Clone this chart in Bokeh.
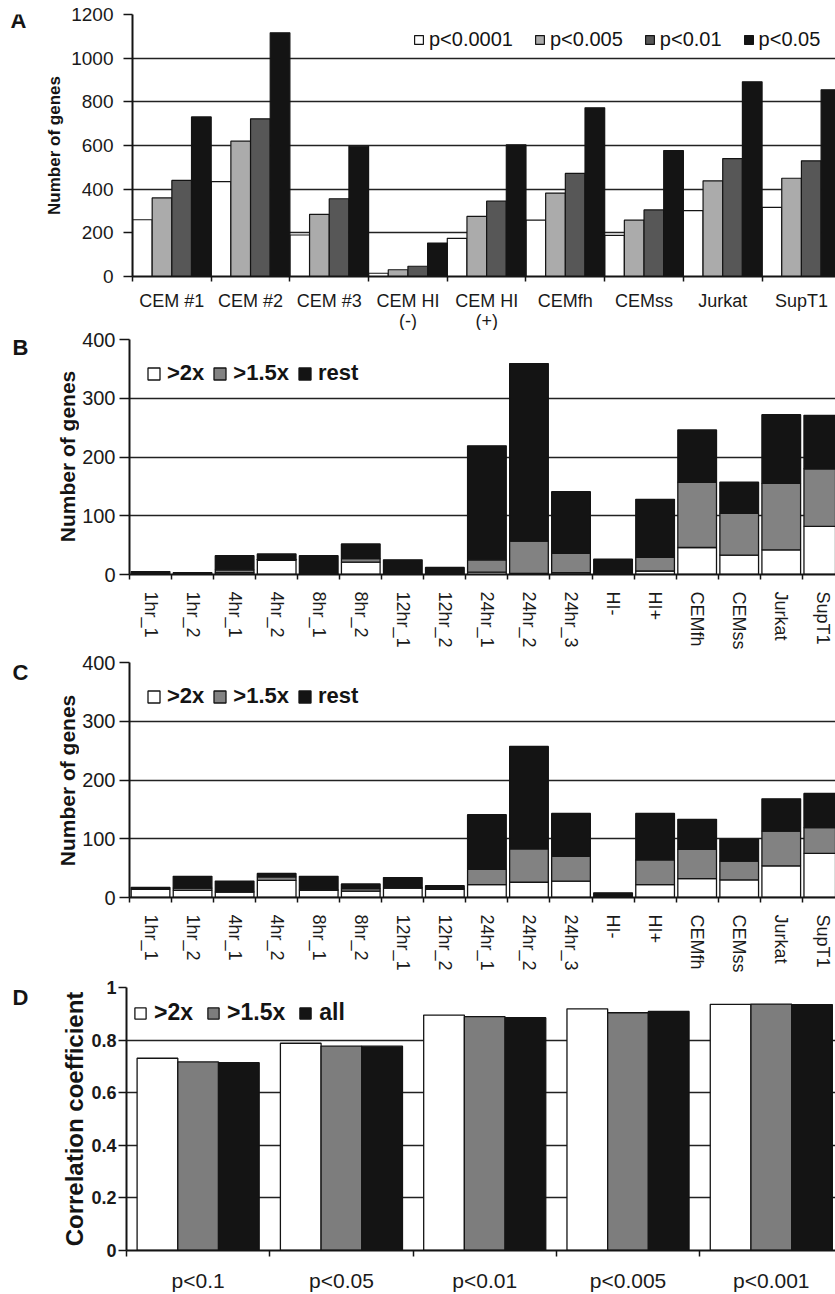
import numpy as np
from bokeh.plotting import figure
from bokeh.models import (FixedTicker, Legend, LegendItem, Range1d,
                          ColumnDataSource)
from bokeh.layouts import column, row
from bokeh.embed import file_html
from bokeh.resources import INLINE
from bokeh.core.properties import value

# ---------------- data ----------------
# Panel A
a_categories = ["CEM #1", "CEM #2", "CEM #3", "CEM HI\n(-)", "CEM HI\n(+)",
                "CEMfh", "CEMss", "Jurkat", "SupT1"]
a_series = ["p<0.0001", "p<0.005", "p<0.01", "p<0.05"]
a_p0001 = [260, 435, 190, 15, 175, 258, 188, 302, 317]
a_p005 = [360, 620, 285, 31, 275, 382, 258, 438, 450]
a_p01 = [440, 722, 356, 47, 345, 472, 305, 540, 530]
a_p05 = [731, 1116, 597, 153, 603, 773, 577, 892, 855]
a_yticks = [0, 200, 400, 600, 800, 1000, 1200]

# Panels B and C (stacked segments)
bc_categories = ["1hr_1", "1hr_2", "4hr_1", "4hr_2", "8hr_1", "8hr_2",
                 "12hr_1", "12hr_2", "24hr_1", "24hr_2", "24hr_3", "HI-",
                 "HI+", "CEMfh", "CEMss", "Jurkat", "SupT1"]
bc_series = [">2x", ">1.5x", "rest"]
b_gt2x = [0, 0, 3, 24, 0, 21, 0, 0, 4, 2, 3, 0, 6, 46, 33, 42, 82]
b_gt15x = [0, 0, 5, 2, 1, 6, 1, 0, 21, 55, 33, 0, 23, 111, 71, 113, 98]
b_rest = [5, 3, 24, 9, 31, 25, 24, 12, 194, 302, 105, 26, 99, 89, 53, 117, 91]
c_gt2x = [14, 12, 9, 29, 12, 11, 16, 14, 22, 26, 28, 0, 22, 32, 30, 54, 75]
c_gt15x = [1, 4, 1, 6, 1, 4, 1, 1, 26, 57, 42, 0, 42, 50, 32, 59, 44]
c_rest = [2, 20, 18, 6, 23, 8, 17, 5, 93, 174, 73, 8, 79, 51, 37, 55, 58]
bc_yticks = [0, 100, 200, 300, 400]

# Panel D
d_categories = ["p<0.1", "p<0.05", "p<0.01", "p<0.005", "p<0.001"]
d_series = [">2x", ">1.5x", "all"]
d_gt2x = [0.731, 0.788, 0.895, 0.919, 0.936]
d_gt15x = [0.717, 0.777, 0.889, 0.904, 0.937]
d_all = [0.714, 0.777, 0.885, 0.909, 0.935]
d_yticks = [0, 0.2, 0.4, 0.6, 0.8, 1]

# ---------------- style ----------------
FONT = "Liberation Sans"
INK = "#141414"
a_colors = ["#ffffff", "#ababab", "#575757", "#141414"]
bc_colors = ["#ffffff", "#828282", "#141414"]
d_colors = ["#ffffff", "#7d7d7d", "#141414"]
PAGE_W = 835


def clean(p):
    p.outline_line_color = None
    p.background_fill_color = "white"
    p.border_fill_color = "white"


def bare_fig(width, height, x_range, y_range, left=0, top=0, bottom=0):
    p = figure(width=width, height=height, output_backend="svg",
               toolbar_location=None, x_range=x_range, y_range=y_range,
               x_axis_location=None, y_axis_location=None, title=None,
               min_border_left=left, min_border_right=0,
               min_border_top=top, min_border_bottom=bottom)
    clean(p)
    p.xgrid.visible = False
    p.ygrid.visible = False
    return p


def side_strip(width, top, height, border_top, border_bottom, letter,
               letter_xy, title, title_xy, title_size):
    """Panel letter and rotated y title, placed in page pixels.
    The strip's frame is aligned with the neighbouring panel's frame."""
    f_top = top + border_top
    f_bot = top + height - border_bottom
    s = bare_fig(width, height, Range1d(0, width), Range1d(f_bot, f_top),
                 top=border_top, bottom=border_bottom)
    s.text(x=[letter_xy[0]], y=[letter_xy[1]], text=[letter],
           text_align="left", text_baseline="middle", text_font=value(FONT),
           text_font_size="22px", text_font_style="bold", text_color=INK)
    s.text(x=[title_xy[0]], y=[title_xy[1]], text=[title], angle=np.pi / 2,
           text_align="center", text_baseline="middle",
           text_font=value(FONT), text_font_size=title_size,
           text_font_style="bold", text_color=INK)
    return s


def base_fig(width, height, left, top, bottom, x_end, y_end):
    p = figure(width=width, height=height, output_backend="svg",
               toolbar_location=None,
               x_range=Range1d(0, x_end), y_range=Range1d(0, y_end),
               min_border_left=left, min_border_right=0,
               min_border_top=top, min_border_bottom=bottom)
    clean(p)
    p.xgrid.visible = False
    p.ygrid.grid_line_color = "#222222"
    p.ygrid.grid_line_width = 1.5
    for ax in (p.xaxis[0], p.yaxis[0]):
        ax.axis_line_color = INK
        ax.axis_line_width = 2
        ax.major_label_text_font = FONT
        ax.major_label_text_color = "#1a1a1a"
        ax.minor_tick_line_color = None
    return p


def cat_xaxis(p, cats, tick_out, standoff, size, show_labels=True):
    n = len(cats)
    centers = [i + 0.5 for i in range(n)]
    bounds = [float(i) for i in range(n + 1)]
    ax = p.xaxis[0]
    ax.ticker = FixedTicker(ticks=centers if show_labels else [],
                            minor_ticks=bounds)
    if show_labels:
        ax.major_label_overrides = {c: lab for c, lab in zip(centers, cats)}
    ax.major_tick_line_color = None
    ax.major_tick_out = 0
    ax.major_tick_in = 0
    ax.minor_tick_line_color = INK
    ax.minor_tick_line_width = 1.5
    ax.minor_tick_out = tick_out
    ax.minor_tick_in = 0
    ax.major_label_standoff = standoff
    ax.major_label_text_font_size = size


def num_yaxis(p, ticks, tick_out, standoff, size, bold=False,
              overrides=None):
    ax = p.yaxis[0]
    ax.ticker = FixedTicker(ticks=ticks)
    ax.major_tick_line_color = INK
    ax.major_tick_line_width = 1.5
    ax.major_tick_out = tick_out
    ax.major_tick_in = 0
    ax.major_label_standoff = standoff
    ax.major_label_text_font_size = size
    if bold:
        ax.major_label_text_font_style = "bold"
    if overrides:
        ax.major_label_overrides = overrides
    p.ygrid.ticker = FixedTicker(ticks=[t for t in ticks if t > 0])


def add_legend(p, labels, renderers, loc, size, glyph, standoff, spacing,
               bold):
    leg = Legend(items=[LegendItem(label=l, renderers=[r])
                        for l, r in zip(labels, renderers)],
                 location=loc, orientation="horizontal", padding=0, margin=0,
                 spacing=spacing, label_standoff=standoff,
                 glyph_width=glyph, glyph_height=glyph,
                 label_text_font=FONT, label_text_font_size=size,
                 label_text_font_style="bold" if bold else "normal",
                 label_text_color=INK,
                 border_line_color=None, background_fill_alpha=0)
    p.add_layout(leg)


# ---------------- Panel A ----------------
SA = 66
sa = side_strip(SA, 0, 290, 14, 14, "A", (10, 20), "Number of genes",
                (54, 145), "17px")
pa = base_fig(PAGE_W - SA, 290, 132 - SA, 14, 14, 8.933, 1200)
num_yaxis(pa, a_yticks, 9, 10, "19px")
cat_xaxis(pa, a_categories, 5, 0, "18px", show_labels=False)
a_values = [a_p0001, a_p005, a_p01, a_p05]
a_idx = np.arange(len(a_categories))
a_rs = []
for k, (vals, col) in enumerate(zip(a_values, a_colors)):
    src = ColumnDataSource(dict(x=a_idx + 0.125 + 0.25 * k, top=vals))
    a_rs.append(pa.vbar(x="x", top="top", width=0.25, source=src,
                        fill_color=col, line_color=INK, line_width=1.2))
add_legend(pa, a_series, a_rs, (281, 225), "20px", 11, 5, 21, False)

# category labels of panel A (some are two lines)
pa_lab = bare_fig(PAGE_W, 40, pa.x_range, Range1d(40, 0), left=132)
pa_lab.text(x=a_idx + 0.5, y=np.zeros(len(a_categories)),
            text=a_categories, text_align="center", text_baseline="top",
            text_font=value(FONT), text_font_size="18px",
            text_line_height=1.0, text_color="#1a1a1a")


# ---------------- Panels B, C ----------------
SB = 79


def stacked_panel(seg1, seg2, seg3, height, top, bottom):
    p = base_fig(PAGE_W - SB, height, 129 - SB, top, bottom, 16.79, 400)
    num_yaxis(p, bc_yticks, 10, 4, "20px")
    cat_xaxis(p, bc_categories, 5, 12, "18px")
    p.xaxis[0].major_label_orientation = "vertical"
    src = ColumnDataSource(dict(x=np.arange(len(bc_categories)) + 0.5,
                                s1=seg1, s2=seg2, s3=seg3))
    rs = p.vbar_stack(["s1", "s2", "s3"], x="x", width=0.92, source=src,
                      fill_color=bc_colors, line_color=INK, line_width=1.3)
    add_legend(p, bc_series, rs, (17, 188), "22px", 15, 6, 8, True)
    return p


sb = side_strip(SB, 330, 322, 9, 78, "B", (12, 347), "Number of genes",
                (67, 456), "21px")
pb = stacked_panel(b_gt2x, b_gt15x, b_rest, 322, 9, 78)
sc = side_strip(SB, 652, 326, 10, 81, "C", (12, 672), "Number of genes",
                (67, 780), "21px")
pc = stacked_panel(c_gt2x, c_gt15x, c_rest, 326, 10, 81)

# ---------------- Panel D ----------------
SD = 87
sd = side_strip(SD, 978, 316, 9, 43, "D", (12, 997),
                "Correlation coefficient", (74, 1119), "24px")
pd_ = base_fig(PAGE_W - SD, 316, 126 - SD, 9, 43, 4.948, 1)
num_yaxis(pd_, d_yticks, 8, 2, "18px", bold=True,
          overrides={0: "0", 1: "1"})
cat_xaxis(pd_, d_categories, 6, 12, "21px")
d_values = [d_gt2x, d_gt15x, d_all]
d_idx = np.arange(len(d_categories))
bw = 0.284
d_rs = []
for k, (vals, col) in enumerate(zip(d_values, d_colors)):
    src = ColumnDataSource(dict(x=d_idx + 0.5 + (k - 1) * bw, top=vals))
    d_rs.append(pd_.vbar(x="x", top="top", width=bw, source=src,
                         fill_color=col, line_color=INK, line_width=1.3))
add_legend(pd_, d_series, d_rs, (7, 224), "23px", 14, 7, 13, True)

layout = column(row(sa, pa, spacing=0), pa_lab, row(sb, pb, spacing=0),
                row(sc, pc, spacing=0), row(sd, pd_, spacing=0), spacing=0)
open("out.html", "w").write(file_html(layout, INLINE))
